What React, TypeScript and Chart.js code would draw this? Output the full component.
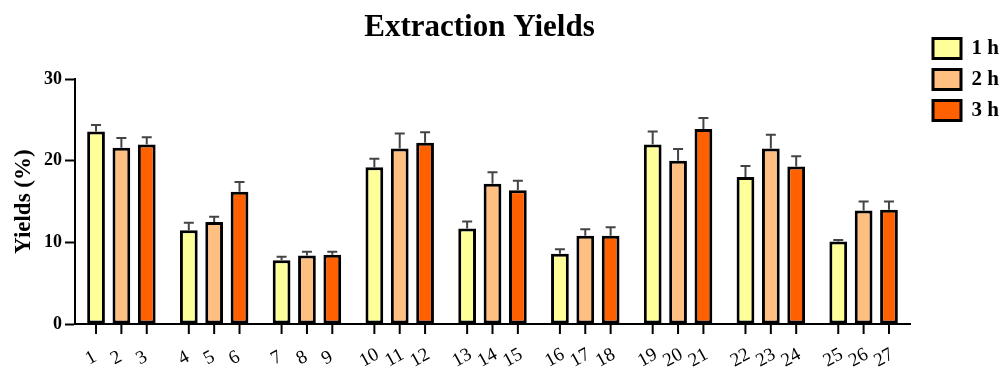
import React, { useEffect, useRef } from "react";
import { Chart, registerables } from "chart.js";

Chart.register(...registerables);

// Tick labels under each bar (sample numbers), 9 groups of 3
const sampleLabels: string[] = [
  "1", "2", "3", "4", "5", "6", "7", "8", "9",
  "10", "11", "12", "13", "14", "15", "16", "17", "18",
  "19", "20", "21", "22", "23", "24", "25", "26", "27",
];
const groupLabels: string[] = ["1-3", "4-6", "7-9", "10-12", "13-15", "16-18", "19-21", "22-24", "25-27"];
const seriesNames: string[] = ["1 h", "2 h", "3 h"];

// Extraction yields (%)
const yield1h: number[] = [23.6, 11.5, 7.8, 19.2, 11.7, 8.6, 22.0, 18.0, 10.1];
const yield2h: number[] = [21.6, 12.5, 8.4, 21.5, 17.2, 10.8, 20.0, 21.5, 13.9];
const yield3h: number[] = [22.0, 16.2, 8.5, 22.2, 16.4, 10.8, 23.9, 19.3, 14.0];

// Standard deviations (upper error bars)
const err1h: number[] = [0.8, 0.9, 0.45, 1.05, 0.85, 0.55, 1.6, 1.35, 0.2];
const err2h: number[] = [1.2, 0.65, 0.45, 1.85, 1.4, 0.8, 1.45, 1.7, 1.1];
const err3h: number[] = [0.9, 1.2, 0.35, 1.3, 1.15, 1.05, 1.35, 1.25, 1.0];

const yTicks: number[] = [0, 10, 20, 30];

const SERIF = "'Liberation Serif', 'DejaVu Serif', serif";
const colors = ["#FFFF99", "#FFBF80", "#FF6000"];

const errorSets = [err1h, err2h, err3h];

const titleShift = {
  id: "titleShift",
  afterLayout(chart: any) {
    const t = chart.titleBlock;
    if (t) t.left -= 26;
  },
};

const barDecorations = {
  id: "barDecorations",
  afterDatasetsDraw(chart: any) {
    const ctx = chart.ctx;
    const yScale = chart.scales.y;
    const axisY = chart.chartArea.bottom;
    chart.data.datasets.forEach((ds: any, di: number) => {
      const meta = chart.getDatasetMeta(di);
      const errs = errorSets[di];
      meta.data.forEach((bar: any, i: number) => {
        const { x, y } = bar.getProps(["x", "y"], true);
        const top = yScale.getPixelForValue(ds.data[i] + errs[i]);
        ctx.save();
        ctx.strokeStyle = "#444";
        ctx.lineWidth = 2;
        ctx.beginPath();
        ctx.moveTo(x, y);
        ctx.lineTo(x, top);
        ctx.moveTo(x - 5, top);
        ctx.lineTo(x + 5, top);
        ctx.stroke();
        ctx.strokeStyle = "#000";
        ctx.lineWidth = 2;
        ctx.beginPath();
        ctx.moveTo(x, axisY);
        ctx.lineTo(x, axisY + 10);
        ctx.stroke();
        ctx.translate(x - 5, axisY + 34);
        ctx.rotate(-0.5);
        ctx.font = `19px ${SERIF}`;
        ctx.fillStyle = "#000";
        ctx.textAlign = "center";
        ctx.textBaseline = "middle";
        ctx.fillText(sampleLabels[i * 3 + di], 0, 0);
        ctx.restore();
      });
    });
  },
};

export default function App() {
  const canvasRef = useRef<HTMLCanvasElement | null>(null);

  useEffect(() => {
    document.body.style.margin = "0";
    const canvas = canvasRef.current;
    if (!canvas) return;
    const data = [yield1h, yield2h, yield3h];
    const chart = new Chart(canvas, {
      type: "bar",
      data: {
        labels: groupLabels,
        datasets: seriesNames.map((name, k) => ({
          label: name,
          data: data[k],
          backgroundColor: colors[k],
          borderColor: "#000",
          borderWidth: 3,
          borderSkipped: false,
          categoryPercentage: 0.82,
          barPercentage: 0.7,
        })),
      },
      options: {
        responsive: false,
        animation: false,
        layout: { padding: { top: 0, left: 0, right: 0, bottom: 0 } },
        plugins: {
          tooltip: { enabled: false },
          title: {
            display: true,
            text: "Extraction Yields",
            fullSize: false,
            color: "#000",
            font: { family: SERIF, size: 31, weight: "bold" },
            padding: { top: 9, bottom: 33 },
          },
          legend: {
            display: true,
            position: "right",
            align: "start",
            maxWidth: 83,
            title: { display: true, text: "", padding: { top: 13.6, bottom: 0 }, font: { size: 12 } },
            labels: {
              boxWidth: 28,
              boxHeight: 20,
              padding: 10,
              color: "#000",
              font: { family: SERIF, size: 21, weight: "bold" },
            },
          },
        },
        scales: {
          x: {
            grid: { display: false },
            ticks: { display: false },
            border: { display: true, color: "#000", width: 2 },
            afterFit: (s: any) => {
              s.height = 45;
            },
          },
          y: {
            min: 0,
            max: 30,
            afterBuildTicks: (s: any) => {
              s.ticks = yTicks.map((v) => ({ value: v }));
            },
            grid: {
              display: true,
              drawOnChartArea: false,
              drawTicks: true,
              tickLength: 10,
              tickWidth: 2,
              tickColor: "#000",
            },
            border: { display: true, color: "#000", width: 2 },
            ticks: {
              color: "#000",
              padding: 3,
              font: { family: SERIF, size: 18, weight: "bold" },
            },
            title: {
              display: true,
              text: "Yields (%)",
              color: "#000",
              font: { family: SERIF, size: 23, weight: "bold" },
              padding: { top: 10, bottom: 0 },
            },
            afterFit: (s: any) => {
              s.width = 75;
            },
          },
          gap: {
            type: "linear",
            position: "right",
            display: true,
            grid: { display: false },
            ticks: { display: false },
            border: { display: false },
            afterFit: (s: any) => {
              s.width = 13;
            },
          },
        },
      },
      plugins: [titleShift, barDecorations],
    });
    return () => chart.destroy();
  }, []);

  return (
    <div style={{ width: 1006, height: 369 }}>
      <canvas ref={canvasRef} width={1006} height={369} style={{ display: "block" }} />
    </div>
  );
}
